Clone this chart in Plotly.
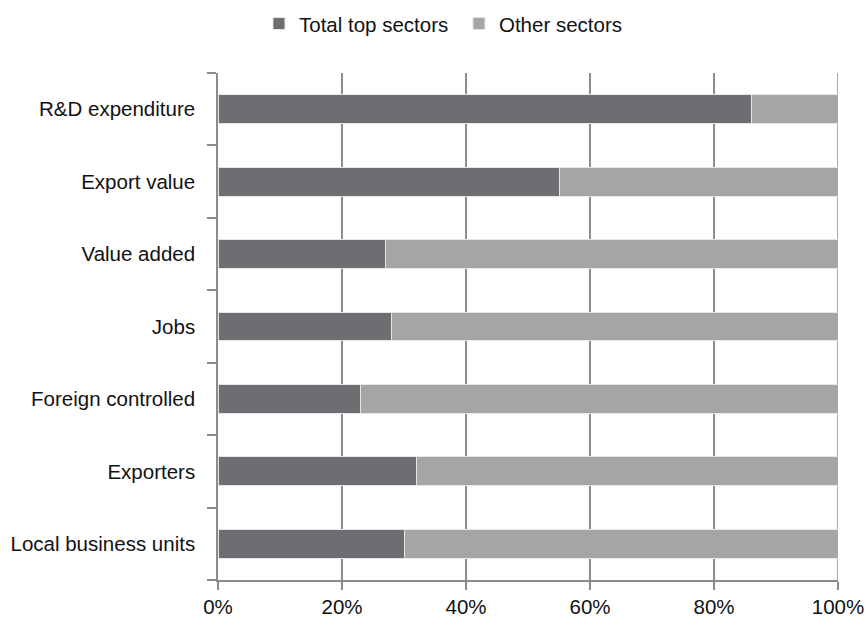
import plotly.graph_objects as go

# Share of each indicator accounted for by the top sectors (percent)
categories = [
    "R&D expenditure",
    "Export value",
    "Value added",
    "Jobs",
    "Foreign controlled",
    "Exporters",
    "Local business units",
]
top_sectors = [86, 55, 27, 28, 23, 32, 30]
other_sectors = [100 - v for v in top_sectors]
x_ticks = [0, 20, 40, 60, 80, 100]
x_tick_labels = ["0%", "20%", "40%", "60%", "80%", "100%"]

FONT = "Liberation Sans, Arial, sans-serif"
AXIS_GREY = "#8c8c8c"

fig = go.Figure()
fig.add_trace(go.Bar(
    y=categories, x=top_sectors, orientation="h", name="Total top sectors",
    marker=dict(color="#6d6e71", line=dict(color="#e6e6e6", width=1)),
))
fig.add_trace(go.Bar(
    y=categories, x=other_sectors, orientation="h", name="Other sectors",
    marker=dict(color="#a5a5a5", line=dict(color="#e6e6e6", width=1)),
))

# vertical grid line at the right end of the scale
fig.add_shape(
    type="line", xref="x", yref="paper", x0=x_ticks[-1], x1=x_ticks[-1],
    y0=0, y1=1, line=dict(color=AXIS_GREY, width=1.5), layer="below",
)

fig.update_layout(
    width=866, height=621,
    barmode="stack", bargap=0.6,
    margin=dict(l=218, r=28, t=73, b=41),
    paper_bgcolor="white", plot_bgcolor="white",
    font=dict(family=FONT, size=20.5, color="#111111"),
    legend=dict(
        orientation="h", x=0.53, xref="container", xanchor="center",
        y=0.994, yref="container", yanchor="top",
        font=dict(size=20.5), itemclick=False,
        traceorder="normal", entrywidth=155,
    ),
    showlegend=True,
)
fig.update_xaxes(
    range=[0, 100], tickvals=x_ticks, ticktext=x_tick_labels,
    showgrid=True, gridcolor=AXIS_GREY, gridwidth=1.5,
    showline=True, linecolor=AXIS_GREY, linewidth=1.5,
    ticks="outside", ticklen=8, tickcolor=AXIS_GREY, tickwidth=1.5,
    zeroline=False, fixedrange=True, automargin=False,
    ticklabeloverflow="allow",
)
fig.update_yaxes(
    categoryorder="array", categoryarray=categories[::-1],
    showgrid=False, showline=True, linecolor=AXIS_GREY, linewidth=1.5,
    ticks="outside", ticklen=9, tickcolor=AXIS_GREY, tickwidth=1.5,
    tickson="boundaries", ticklabelstandoff=17, fixedrange=True,
    automargin=False,
)

fig.write_html("out.html")
